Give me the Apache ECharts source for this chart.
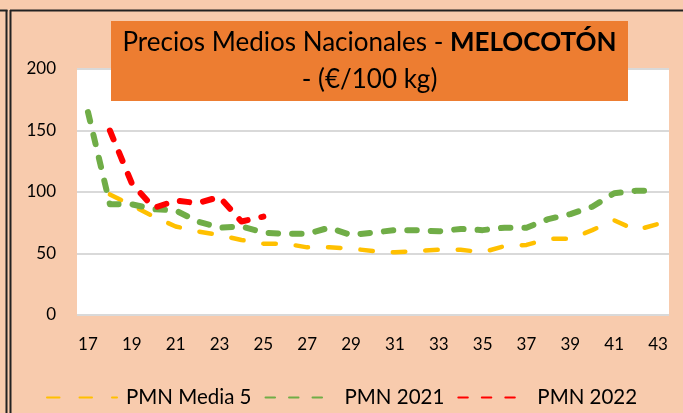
<!DOCTYPE html>
<html><head><meta charset="utf-8">
<script src="https://cdn.jsdelivr.net/npm/echarts@6/dist/echarts.min.js"></script>
<style>html,body{margin:0;padding:0;background:#F8CBAD}#c{width:683px;height:413px}</style>
</head><body><div id="c"></div>
<script>
const weeks = ['17','18','19','20','21','22','23','24','25','26','27','28','29','30','31','32','33','34','35','36','37','38','39','40','41','42','43'];
const media5 = [null, 98, 89, 80, 72, 68, 65, 61, 58, 58, 55, 55, 54, 52, 51, 52, 53, 53, 51, 56, 57, 62, 62, 69, 77, 69, 74];
const pmn2021 = [165, 90, 90, 86, 85, 76, 71, 72, 67, 66, 66, 71, 65, 67, 69, 69, 68, 70, 69, 71, 71, 78, 82, 88, 99, 101, 101];
const pmn2022 = [null, 150, 107, 87, 93, 91, 96, 76, 80, null, null, null, null, null, null, null, null, null, null, null, null, null, null, null, null, null, null];
const seriesNames = ['PMN Media 5', 'PMN 2021', 'PMN 2022'];
const titleLine1 = 'Precios Medios Nacionales - ';
const titleBold = 'MELOCOTÓN';
const titleLine2 = '- (€/100 kg)';

const FONT = 'Lato';
const chart = echarts.init(document.getElementById('c'), null, {renderer: 'canvas'});
chart.setOption({
  backgroundColor: '#F8CBAD',
  animation: false,
  graphic: [
    {type: 'line', shape: {x1: 0, y1: 10.5, x2: 7.5, y2: 10.5}, style: {stroke: '#222', lineWidth: 2}, z: 10},
    {type: 'line', shape: {x1: 6.5, y1: 10, x2: 6.5, y2: 413}, style: {stroke: '#222', lineWidth: 2}, z: 10},
    {type: 'line', shape: {x1: 10.5, y1: 10, x2: 10.5, y2: 413}, style: {stroke: '#222', lineWidth: 2}, z: 10},
    {type: 'line', shape: {x1: 10, y1: 10.5, x2: 683, y2: 10.5}, style: {stroke: '#222', lineWidth: 2}, z: 10},
    {type: 'rect', shape: {x: 111, y: 21, width: 517, height: 80}, style: {fill: '#ED7D31'}, z: 5}
  ],
  title: {
    text: '{n|' + titleLine1 + '}{b|' + titleBold + '}\n{n|' + titleLine2 + '}',
    left: 369.5, top: 24, textAlign: 'center', padding: 0, z: 20,
    textStyle: {
      fontWeight: 'normal', fontFamily: FONT, fontSize: 26,
      rich: {
        n: {fontFamily: FONT, fontSize: 26, fontWeight: 'normal', color: '#000', lineHeight: 37},
        b: {fontFamily: FONT, fontSize: 26, fontWeight: 'bold', color: '#000', lineHeight: 37}
      }
    }
  },
  legend: {
    data: [
      {name: seriesNames[0], textStyle: {width: 131}},
      {name: seriesNames[1], textStyle: {width: 101}},
      {name: seriesNames[2], textStyle: {width: 100}}
    ],
    left: 46, top: 387, padding: 0,
    itemWidth: 70, itemHeight: 14, itemGap: 13,
    itemStyle: {opacity: 0},
    textStyle: {fontFamily: FONT, fontSize: 20.5, color: '#000', padding: [0, 0, 0, 4]}
  },
  grid: {left: 77, right: 14, top: 69, bottom: 98, show: true, backgroundColor: '#fff', borderWidth: 0},
  xAxis: {
    type: 'category', data: weeks, boundaryGap: true,
    axisLine: {show: false}, axisTick: {show: false},
    axisLabel: {interval: 1, margin: 21, fontFamily: FONT, fontSize: 17, color: '#000'}
  },
  yAxis: {
    type: 'value', min: 0, max: 200, interval: 50,
    axisLine: {show: false}, axisTick: {show: false},
    axisLabel: {margin: 21, fontFamily: FONT, fontSize: 17, color: '#000'},
    splitLine: {lineStyle: {color: '#D9D9D9', width: 2}}
  },
  series: [
    {name: seriesNames[0], type: 'line', data: media5, symbol: 'none', connectNulls: false,
     itemStyle: {color: '#FFC000'},
     lineStyle: {color: '#FFC000', width: 4.5, type: [12.5, 20], cap: 'round', join: 'round'}},
    {name: seriesNames[1], type: 'line', data: pmn2021, symbol: 'none',
     itemStyle: {color: '#70AD47'},
     lineStyle: {color: '#70AD47', width: 6, type: [9.5, 14], cap: 'round', join: 'round'}},
    {name: seriesNames[2], type: 'line', data: pmn2022, symbol: 'none', connectNulls: false,
     itemStyle: {color: '#FF0000'},
     lineStyle: {color: '#FF0000', width: 6, type: [9.5, 14], cap: 'round', join: 'round'}}
  ]
});
</script></body></html>
